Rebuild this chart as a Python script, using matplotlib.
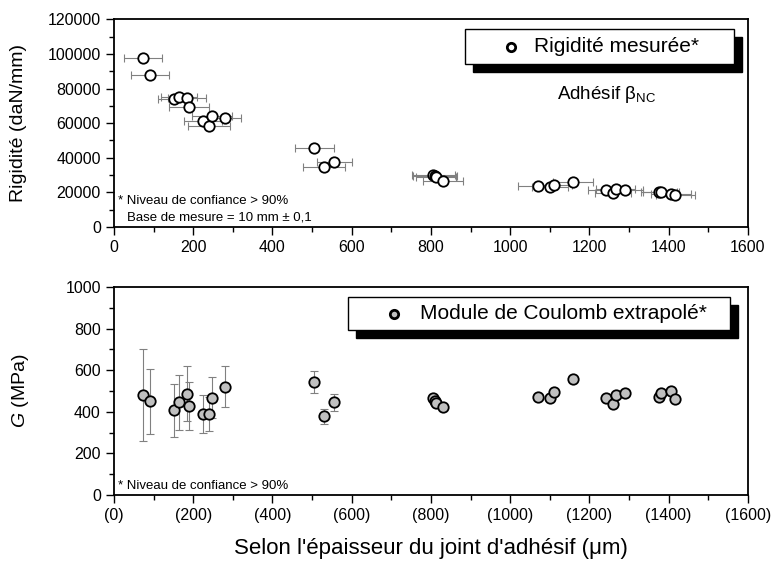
import numpy as np
import matplotlib
matplotlib.use('Agg')
import matplotlib.pyplot as plt
from matplotlib.patches import Rectangle

plt.rcParams['font.family'] = ['Liberation Sans', 'DejaVu Sans']
plt.rcParams['mathtext.fontset'] = 'custom'
plt.rcParams['mathtext.rm'] = 'Liberation Sans'
plt.rcParams['mathtext.it'] = 'Liberation Sans:italic'

# ── Data ───────────────────────────────────────────────────────────────────
thickness = [74, 90, 152, 164, 184, 189, 225, 240, 247, 279,
             505, 530, 556, 806, 810, 813, 831,
             1069, 1100, 1111, 1159, 1241, 1260, 1266, 1291,
             1376, 1380, 1406, 1417]
thick_err = [48, 48, 40, 45, 48, 50, 48, 52, 50, 42,
             49, 52, 44, 55, 55, 50, 50,
             49, 45, 45, 50, 45, 45, 50, 45,
             45, 45, 50, 50]
rigidite = [97900, 87700, 73700, 75200, 74600, 69200, 61000, 58300, 64000, 62900,
            45700, 34800, 37700, 30000, 29500, 29000, 26500,
            23800, 23250, 24400, 26000, 21200, 19600, 21900, 21500,
            20000, 20400, 18900, 18500]
module_G = [481, 450, 407, 446, 488, 428, 389, 389, 468, 521,
            542, 378, 446, 465, 452, 444, 425,
            471, 468, 494, 559, 466, 436, 481, 490,
            473, 492, 501, 460]
module_err = [223, 156, 128, 132, 134, 115, 91, 80, 100, 99,
              52, 36, 40, 20, 15, 15, 15,
              10, 10, 10, 12, 10, 12, 10, 10,
              10, 10, 12, 10]

xticks = np.arange(0, 1601, 200)

fig = plt.figure(figsize=(7.74, 5.65), dpi=100)
ax1 = fig.add_axes([0.1473, 0.598, 0.819, 0.368])
ax2 = fig.add_axes([0.1473, 0.1239, 0.819, 0.368])

err_col = '#808080'

# ── Top: rigidity ──────────────────────────────────────────────────────────
ax1.errorbar(thickness, rigidite, xerr=thick_err, fmt='none', ecolor=err_col,
             elinewidth=0.8, capsize=3, capthick=0.8, zorder=2)
ax1.plot(thickness, rigidite, 'o', ms=7.5, mfc='white', mec='black', mew=1.3, zorder=3)
ax1.set_xlim(0, 1600)
ax1.set_ylim(0, 120000)
ax1.set_xticks(xticks)
ax1.set_xticks(np.arange(100, 1600, 200), minor=True)
ax1.set_yticks(np.arange(0, 120001, 20000))
ax1.set_yticks(np.arange(10000, 120000, 20000), minor=True)
ax1.set_ylabel('Rigidité (daN/mm)', fontsize=14)
ax1.yaxis.set_label_coords(-0.137, 0.5)

ax1.text(0.006, 0.125, '* Niveau de confiance > 90%', transform=ax1.transAxes,
         fontsize=9.5, va='center')
ax1.text(0.02, 0.045, 'Base de mesure = 10 mm ± 0,1', transform=ax1.transAxes,
         fontsize=9.5, va='center')

# legend box with shadow
ax1.add_patch(Rectangle((0.566, 0.745), 0.424, 0.168, transform=ax1.transAxes,
                        facecolor='black', edgecolor='black', zorder=4, clip_on=False))
ax1.add_patch(Rectangle((0.554, 0.784), 0.424, 0.168, transform=ax1.transAxes,
                        facecolor='white', edgecolor='black', lw=1.0, zorder=5, clip_on=False))
ax1.plot([0.627], [0.868], 'o', ms=6, mfc='white', mec='black', mew=2.0,
         transform=ax1.transAxes, zorder=6, clip_on=False)
ax1.text(0.663, 0.868, 'Rigidité mesurée*', transform=ax1.transAxes,
         fontsize=15, va='center', zorder=6)
ax1.text(0.777, 0.64, 'Adhésif β$_{\\mathrm{NC}}$', transform=ax1.transAxes,
         fontsize=13.5, va='center', ha='center')

# ── Bottom: shear modulus ──────────────────────────────────────────────────
ax2.errorbar(thickness, module_G, yerr=module_err, fmt='none', ecolor=err_col,
             elinewidth=0.8, capsize=3, capthick=0.8, zorder=2)
ax2.plot(thickness, module_G, 'o', ms=7.5, mfc='#c0c0c0', mec='black', mew=1.3, zorder=3)
ax2.set_xlim(0, 1600)
ax2.set_ylim(0, 1000)
ax2.set_xticks(xticks)
ax2.set_xticklabels(['(%d)' % v for v in xticks])
ax2.set_xticks(np.arange(100, 1600, 200), minor=True)
ax2.set_yticks(np.arange(0, 1001, 200))
ax2.set_yticks(np.arange(100, 1000, 200), minor=True)
ax2.set_ylabel('$G$ (MPa)', fontsize=14)
ax2.yaxis.set_label_coords(-0.131, 0.5)
ax2.set_xlabel("Selon l'épaisseur du joint d'adhésif (μm)", fontsize=16, labelpad=11)

ax2.text(0.006, 0.045, '* Niveau de confiance > 90%', transform=ax2.transAxes,
         fontsize=9.5, va='center')

ax2.add_patch(Rectangle((0.381, 0.755), 0.603, 0.159, transform=ax2.transAxes,
                        facecolor='black', edgecolor='black', zorder=4, clip_on=False))
ax2.add_patch(Rectangle((0.369, 0.793), 0.603, 0.159, transform=ax2.transAxes,
                        facecolor='white', edgecolor='black', lw=1.0, zorder=5, clip_on=False))
ax2.plot([0.441], [0.872], 'o', ms=6, mfc='#c0c0c0', mec='black', mew=2.0,
         transform=ax2.transAxes, zorder=6, clip_on=False)
ax2.text(0.483, 0.872, 'Module de Coulomb extrapolé*', transform=ax2.transAxes,
         fontsize=15, va='center', zorder=6)

for ax in (ax1, ax2):
    for sp in ax.spines.values():
        sp.set_linewidth(1.3)
        sp.set_color('black')
    ax.tick_params(which='major', direction='out', length=6, width=1.0,
                   labelsize=11.5, top=False, right=False)
    ax.tick_params(which='minor', direction='out', length=3.5, width=1.0,
                   top=False, right=False)

plt.savefig('out.png', dpi=100)
plt.close()
